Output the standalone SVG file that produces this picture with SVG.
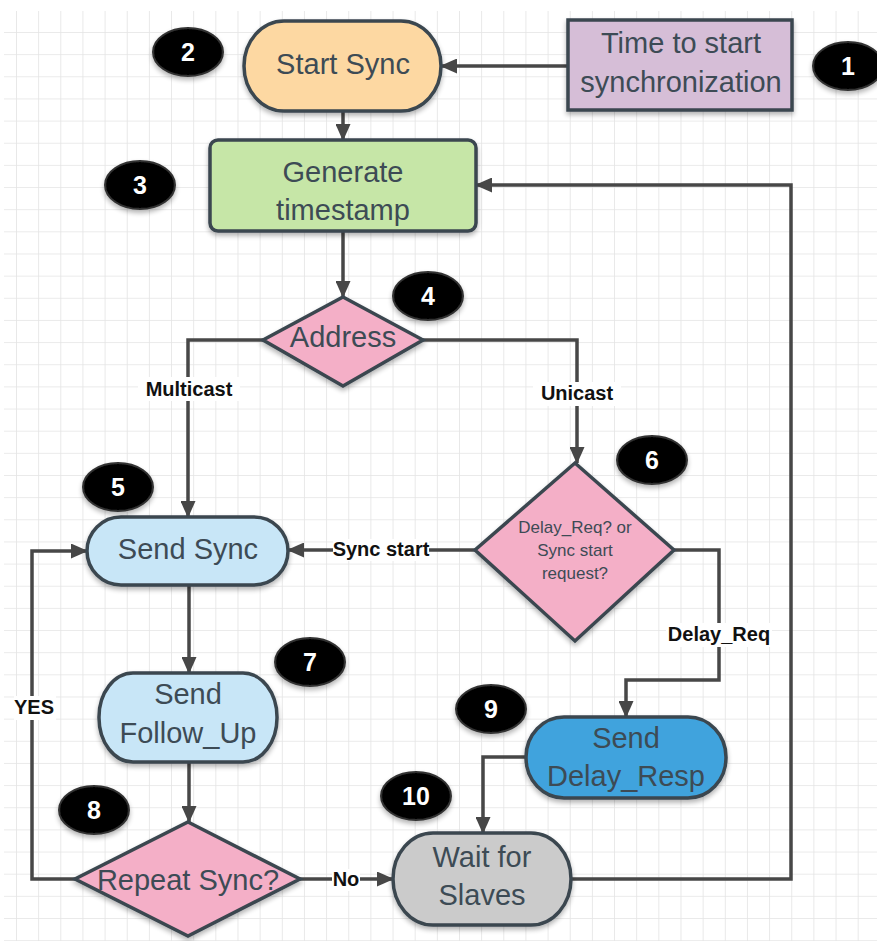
<svg xmlns="http://www.w3.org/2000/svg" width="877" height="941" viewBox="0 0 877 941">
<defs>
<pattern id="grid" patternUnits="userSpaceOnUse" x="16" y="32" width="22.15" height="22.15">
<path d="M0,0 H22.15 M0,0 V22.15" fill="none" stroke="#e4e4e4" stroke-width="1.6"/>
</pattern>
<marker id="arr" markerUnits="userSpaceOnUse" markerWidth="17" markerHeight="15" refX="16" refY="7.5" orient="auto">
<path d="M0,0 L17,7.5 L0,15 z" fill="#474747"/>
</marker>
<filter id="sh" x="-20%" y="-20%" width="140%" height="150%">
<feGaussianBlur in="SourceAlpha" stdDeviation="2.5"/>
<feOffset dx="0" dy="3" result="b"/>
<feComponentTransfer><feFuncA type="linear" slope="0.3"/></feComponentTransfer>
<feMerge><feMergeNode/><feMergeNode in="SourceGraphic"/></feMerge>
</filter>
</defs>
<style>
.node{stroke:#3b4650;stroke-width:3.5;filter:url(#sh)}
.t{font-family:"Liberation Sans",Arial,sans-serif;font-size:29px;fill:#3d4b55;text-anchor:middle}
.ts{font-family:"Liberation Sans",Arial,sans-serif;font-size:17px;fill:#3d4b55;text-anchor:middle}
.c{fill:none;stroke:#474747;stroke-width:3.5}
.lbl{font-family:"Liberation Sans",Arial,sans-serif;font-size:20px;font-weight:bold;fill:#111;text-anchor:middle}
.lb{fill:#fff}
.badge{fill:#050505;stroke:#333;stroke-width:2;filter:url(#sh)}
.bn{font-family:"Liberation Sans",Arial,sans-serif;font-size:25px;font-weight:bold;fill:#fff;text-anchor:middle}
.pink{fill:#f4afc7}
.lblue{fill:#c8e6f7}
</style>
<rect width="877" height="941" fill="#fff"/>
<rect x="4" y="11" width="873" height="930" fill="url(#grid)"/>

<g id="connectors">
<path class="c" d="M568,66 L441,66" marker-end="url(#arr)"/>
<path class="c" d="M343,111 L343,140" marker-end="url(#arr)"/>
<path class="c" d="M343,231 L343,297" marker-end="url(#arr)"/>
<path class="c" d="M263,340 L188,340 L188,517" marker-end="url(#arr)"/>
<path class="c" d="M423,340 L577,340 L577,463" marker-end="url(#arr)"/>
<path class="c" d="M475,550 L288,550" marker-end="url(#arr)"/>
<path class="c" d="M674,550 L719,550 L719,680 L626,680 L626,717" marker-end="url(#arr)"/>
<path class="c" d="M189,585 L189,673" marker-end="url(#arr)"/>
<path class="c" d="M189,762 L189,822" marker-end="url(#arr)"/>
<path class="c" d="M75,879 L32,879 L32,551 L87,551" marker-end="url(#arr)"/>
<path class="c" d="M300,879 L393,879" marker-end="url(#arr)"/>
<path class="c" d="M526,757 L483,757 L483,833" marker-end="url(#arr)"/>
<path class="c" d="M571,879 L791,879 L791,185 L476,185" marker-end="url(#arr)"/>
<rect class="lb" x="138" y="377" width="102" height="24"/>
<text class="lbl" x="189" y="396">Multicast</text>
<rect class="lb" x="533" y="382" width="88" height="24"/>
<text class="lbl" x="577" y="400">Unicast</text>
<rect class="lb" x="333" y="539" width="96" height="22"/>
<text class="lbl" x="381" y="556">Sync start</text>
<rect class="lb" x="666" y="623" width="106" height="24"/>
<text class="lbl" x="719" y="641">Delay_Req</text>
<rect class="lb" x="14" y="696" width="42" height="24"/>
<text class="lbl" x="34" y="714">YES</text>
<rect class="lb" x="332" y="869" width="28" height="22"/>
<text class="lbl" x="346" y="886">No</text>
</g>

<g id="n1">
<rect class="node" x="568" y="20" width="224" height="90" fill="#d6bed7"/>
<text class="t" x="681" y="53">Time to start</text>
<text class="t" x="681" y="92">synchronization</text>
</g>
<g id="n2">
<rect class="node" x="244" y="21" width="197" height="90" rx="40" ry="45" fill="#fdd8a2"/>
<text class="t" x="343" y="74">Start Sync</text>
</g>
<g id="n3">
<rect class="node" x="210" y="140" width="266" height="91" rx="8" fill="#c6e6a7"/>
<text class="t" x="343" y="182">Generate</text>
<text class="t" x="343" y="220">timestamp</text>
</g>
<g id="n4">
<polygon class="node pink" points="343,297 423,340 343,386 263,340"/>
<text class="t" x="343" y="347">Address</text>
</g>
<g id="n6">
<polygon class="node pink" points="575,463 674,550 575,641 475,550"/>
<text class="ts" x="575" y="533">Delay_Req? or</text>
<text class="ts" x="575" y="556">Sync start</text>
<text class="ts" x="575" y="579">request?</text>
</g>
<g id="n5">
<rect class="node lblue" x="87" y="517" width="201" height="68" rx="34" ry="34"/>
<text class="t" x="188" y="559">Send Sync</text>
</g>
<g id="n7">
<rect class="node lblue" x="99" y="673" width="178" height="89" rx="34" ry="44"/>
<text class="t" x="188" y="704">Send</text>
<text class="t" x="188" y="743">Follow_Up</text>
</g>
<g id="n8">
<polygon class="node pink" points="188,822 300,879 188,936 75,879"/>
<text class="t" x="188" y="890">Repeat Sync?</text>
</g>
<g id="n9">
<rect class="node" x="526" y="717" width="200" height="81" rx="38" ry="40" fill="#3fa3dd"/>
<text class="t" x="626" y="748">Send</text>
<text class="t" x="626" y="786">Delay_Resp</text>
</g>
<g id="n10">
<rect class="node" x="393" y="833" width="178" height="92" rx="40" ry="46" fill="#cbcbcb"/>
<text class="t" x="482" y="867">Wait for</text>
<text class="t" x="482" y="905">Slaves</text>
</g>

<g id="badges">
<ellipse class="badge" cx="848" cy="66" rx="35" ry="24"/>
<text class="bn" x="848" y="75">1</text>
<ellipse class="badge" cx="188" cy="52" rx="35" ry="24"/>
<text class="bn" x="188" y="61">2</text>
<ellipse class="badge" cx="140" cy="185" rx="35" ry="24"/>
<text class="bn" x="140" y="194">3</text>
<ellipse class="badge" cx="428" cy="296" rx="35" ry="24"/>
<text class="bn" x="428" y="305">4</text>
<ellipse class="badge" cx="118" cy="487" rx="35" ry="24"/>
<text class="bn" x="118" y="496">5</text>
<ellipse class="badge" cx="652" cy="460" rx="35" ry="24"/>
<text class="bn" x="652" y="469">6</text>
<ellipse class="badge" cx="310" cy="662" rx="35" ry="24"/>
<text class="bn" x="310" y="671">7</text>
<ellipse class="badge" cx="94" cy="810" rx="35" ry="24"/>
<text class="bn" x="94" y="819">8</text>
<ellipse class="badge" cx="491" cy="709" rx="35" ry="24"/>
<text class="bn" x="491" y="718">9</text>
<ellipse class="badge" cx="416" cy="796" rx="35" ry="24"/>
<text class="bn" x="416" y="805">10</text>
</g>
</svg>
